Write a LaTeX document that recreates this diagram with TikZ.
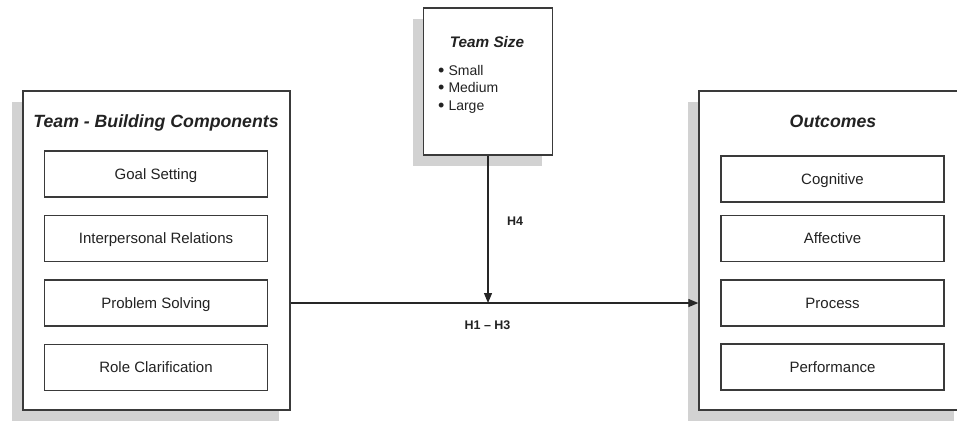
\documentclass[tikz,border=0pt]{standalone}
\usepackage{fontspec}
\setmainfont{Liberation Sans}
\usetikzlibrary{arrows.meta,shadows}
\definecolor{edge}{HTML}{3A3A3A}
\definecolor{shade}{HTML}{D2D2D2}
\definecolor{ink}{HTML}{222222}
\newcommand{\dotmark}{\raisebox{-1.3pt}{\fontsize{18}{18}\selectfont\textbullet}\hspace{4pt}}
\begin{document}
\begin{tikzpicture}[x=1pt,y=-1pt,
  panel/.style={draw=edge,line width=1.3pt,fill=white,inner sep=0pt,
    drop shadow={shadow xshift=-11pt,shadow yshift=-11pt,fill=shade,opacity=1}},
  item/.style={draw=edge,line width=1.1pt,fill=white,inner sep=0pt,
    minimum width=223pt,minimum height=46pt,text=ink,
    font=\fontsize{15}{18}\selectfont,text height=10.7pt,text depth=0pt},
  heading/.style={text=ink,inner sep=0pt,anchor=base,
    font=\fontsize{17.7}{20}\selectfont\bfseries\itshape},
  subheading/.style={heading,font=\fontsize{15.3}{18}\selectfont\bfseries\itshape},
  entry/.style={text=ink,inner sep=0pt,anchor=base west,
    font=\fontsize{14}{17}\selectfont},
  hyp/.style={text=ink,inner sep=0pt,text height=9pt,text depth=0pt,
    font=\fontsize{12.5}{15}\selectfont\bfseries},
  link/.style={draw=black!85,line width=1.2pt,-{Triangle[length=10pt,width=8pt]}}]
\useasboundingbox (0,0) rectangle (957,421);

% left panel: team-building components
\node[panel,minimum width=267pt,minimum height=319pt] (tbc) at (156.5,250.5) {};
\node[heading] (tbctitle) at (156,127.5) {Team - Building Components};
\node[item] (goal) at (156,174) {Goal Setting};
\node[item] (inter) at (156,238.5) {Interpersonal Relations};
\node[item] (prob) at (156,303) {Problem Solving};
\node[item] (role) at (156,367.5) {Role Clarification};

% top panel: team size
\node[panel,minimum width=129pt,minimum height=147pt] (ts) at (488,81.5) {};
\node[subheading] (tstitle) at (487,47) {Team Size};
\node[entry] (sz1) at (438,75) {\dotmark Small};
\node[entry] (sz2) at (438,92.5) {\dotmark Medium};
\node[entry] (sz3) at (438,110) {\dotmark Large};

% right panel: outcomes, running past the right margin
\node[panel,minimum width=266pt,minimum height=319pt] (out) at (832,250.5) {};
\node[heading] (outtitle) at (833,127) {Outcomes};
\node[item] (cog) at (832.5,179) {Cognitive};
\node[item] (aff) at (832.5,238.5) {Affective};
\node[item] (proc) at (832.5,303) {Process};
\node[item] (perf) at (832.5,367) {Performance};

% connectors
\coordinate (join) at (488,303);
\draw[link] (tbc.east |- join) -- (out.west |- join);
\draw[link] (ts.south) -- (join);
\node[hyp] (h4) at (515,221) {H4};
\node[hyp] (h13) at (487.5,325) {H1 -- H3};
\end{tikzpicture}
\end{document}
